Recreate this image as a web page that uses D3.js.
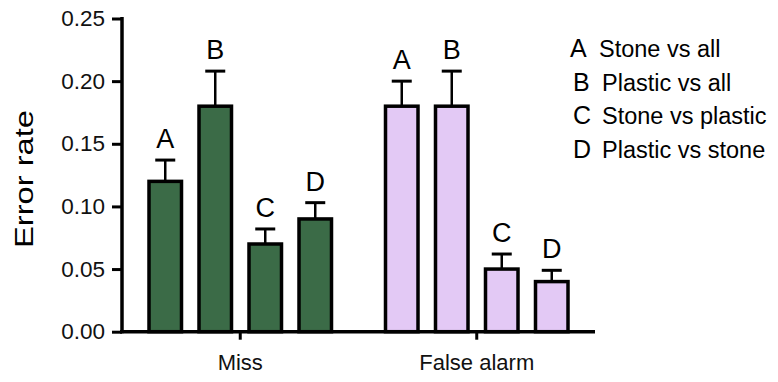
<!DOCTYPE html>
<html>
<head>
<meta charset="utf-8">
<script src="https://d3js.org/d3.v7.min.js"></script>
<style>
    body { margin: 0; background: #fff; }
    svg { display: block; font-family: "Liberation Sans", Arial, Helvetica, sans-serif; }
</style>
</head>
<body>
<div id="chart"></div>
<script>
// Data
const groups = ["Miss", "False alarm"];
const letters = ["A", "B", "C", "D"];
const missValues = [0.12, 0.18, 0.07, 0.09];
const missErrors = [0.017, 0.028, 0.012, 0.013];
const faValues = [0.18, 0.18, 0.05, 0.04];
const faErrors = [0.02, 0.028, 0.012, 0.009];
const yTicks = [0, 0.05, 0.10, 0.15, 0.20, 0.25];
const legendLabels = ["Stone vs all", "Plastic vs all", "Stone vs plastic", "Plastic vs stone"];
const groupColors = ["#3b6b47", "#e3c9f5"];

const width = 778, height = 382;

const svg = d3.select("#chart").append("svg")
    .attr("width", width)
    .attr("height", height);

const y = d3.scaleLinear().domain([0, 0.25]).range([331.7, 18.5]);
const x0 = d3.scaleBand().domain(groups).range([122, 595]);
const x1 = d3.scaleBand().domain(letters).range([-100, 100])
    .paddingInner(0.35).paddingOuter(0.175);

const rows = [];
groups.forEach((g, gi) => {
    const vals = gi === 0 ? missValues : faValues;
    const errs = gi === 0 ? missErrors : faErrors;
    letters.forEach((l, i) => {
        rows.push({ group: g, gi, letter: l, value: vals[i], err: errs[i] });
    });
});

const cx = d => x0(d.group) + x0.bandwidth() / 2 + x1(d.letter) + x1.bandwidth() / 2;

// Error bars (drawn first so bar outline sits on top)
const eb = svg.append("g").attr("stroke", "#000");
eb.selectAll("line.stem").data(rows).enter().append("line")
    .attr("x1", cx).attr("x2", cx)
    .attr("y1", d => y(d.value))
    .attr("y2", d => y(d.value + d.err))
    .attr("stroke-width", 2.5);
eb.selectAll("line.cap").data(rows).enter().append("line")
    .attr("x1", d => cx(d) - 10).attr("x2", d => cx(d) + 10)
    .attr("y1", d => y(d.value + d.err))
    .attr("y2", d => y(d.value + d.err))
    .attr("stroke-width", 3);

// Bars
svg.append("g").selectAll("rect").data(rows).enter().append("rect")
    .attr("x", d => cx(d) - x1.bandwidth() / 2)
    .attr("width", x1.bandwidth())
    .attr("y", d => y(d.value))
    .attr("height", d => y(0) - y(d.value))
    .attr("fill", d => groupColors[d.gi])
    .attr("stroke", "#000")
    .attr("stroke-width", 3.5);

// Letters above bars
svg.append("g").selectAll("text").data(rows).enter().append("text")
    .attr("x", cx)
    .attr("y", d => y(d.value + d.err) - 12)
    .attr("text-anchor", "middle")
    .attr("font-size", 27)
    .text(d => d.letter);

// Y axis
const yAxis = svg.append("g")
    .attr("transform", "translate(122,0)")
    .call(d3.axisLeft(y).tickValues(yTicks).tickFormat(d3.format(".2f"))
        .tickSize(10).tickPadding(7).tickSizeOuter(0));
yAxis.select(".domain").attr("stroke-width", 3.5)
    .attr("d", `M0,${y(0) + 1.5}V${y(0.25) - 1.5}`);
yAxis.selectAll(".tick line").attr("stroke-width", 3);
yAxis.selectAll(".tick text").attr("font-size", 22.5).attr("fill", "#111")
    .attr("font-family", "\"Liberation Sans\", Arial, sans-serif");

// X axis
const xAxis = svg.append("g")
    .attr("transform", `translate(0,${y(0)})`)
    .call(d3.axisBottom(x0).tickSize(8).tickPadding(15).tickSizeOuter(0));
xAxis.select(".domain").attr("stroke-width", 3.5)
    .attr("d", "M120,0H595");
xAxis.selectAll(".tick line").attr("stroke-width", 3);
xAxis.selectAll(".tick text").attr("font-size", 22).attr("fill", "#111")
    .attr("font-family", "\"Liberation Sans\", Arial, sans-serif");

// Y axis title
svg.append("text")
    .attr("transform", "translate(33,179) rotate(-90)")
    .attr("text-anchor", "middle")
    .attr("font-size", 26)
    .attr("textLength", 138)
    .attr("lengthAdjust", "spacingAndGlyphs")
    .text("Error rate");

// Legend
const legend = svg.append("g").selectAll("g").data(letters).enter().append("g")
    .attr("transform", (d, i) => `translate(0,${57 + i * 33.5})`);
legend.append("text")
    .attr("x", (d, i) => i === 0 ? 570 : 573)
    .attr("font-size", 25)
    .text(d => d);
legend.append("text")
    .attr("x", (d, i) => i === 0 ? 599 : 602)
    .attr("font-size", 23.5)
    .text((d, i) => legendLabels[i]);
</script>
</body>
</html>
